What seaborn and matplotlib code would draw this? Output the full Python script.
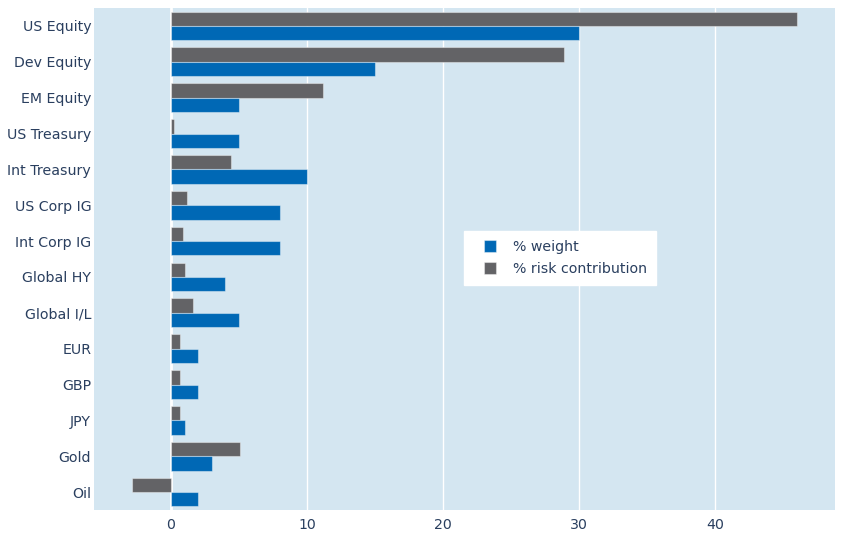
import numpy as np
import pandas as pd
import seaborn as sns
import matplotlib.pyplot as plt
from matplotlib.patches import Rectangle
from matplotlib.legend_handler import HandlerPatch

# ---------- Data ----------
ASSETS = ["US Equity", "Dev Equity", "EM Equity", "US Treasury", "Int Treasury",
          "US Corp IG", "Int Corp IG", "Global HY", "Global I/L", "EUR", "GBP",
          "JPY", "Gold", "Oil"]
WEIGHT = [30, 15, 5, 5, 10, 8, 8, 4, 5, 2, 2, 1, 3, 2]
RISK = [46.0, 28.9, 11.2, 0.2, 4.4, 1.15, 0.9, 1.05, 1.6, 0.65, 0.65, 0.65, 5.05, -2.9]
XTICKS = [0, 10, 20, 30, 40]

BLUE = "#0068B5"
GREY = "#636366"
BG = "#D4E6F1"
TXT = "#2A3F5F"


def square_right(legend, orig_handle, xdescent, ydescent, width, height, fontsize):
    # square swatch pushed to the right end of the handle box
    return Rectangle((width - height - xdescent, -ydescent), height, height)


def main() -> int:
    df = pd.concat([
        pd.DataFrame({"asset": ASSETS, "value": RISK, "series": "% risk contribution"}),
        pd.DataFrame({"asset": ASSETS, "value": WEIGHT, "series": "% weight"}),
    ])

    sns.set_theme(style="white")
    plt.rcParams["font.family"] = ["DejaVu Sans"]

    fig = plt.figure(figsize=(8.43, 5.40), dpi=100)
    ax = fig.add_axes([94 / 843, 30 / 540, (835 - 94) / 843, (510 - 8) / 540])
    ax.set_facecolor(BG)

    sns.barplot(data=df, y="asset", x="value", hue="series", order=ASSETS,
                hue_order=["% risk contribution", "% weight"],
                palette=[GREY, BLUE], saturation=1, orient="h", width=0.8,
                errorbar=None, edgecolor=(1, 1, 1, 0.4), linewidth=0.8,
                ax=ax, zorder=3)

    ax.set_xlim(-5.66, 48.8)
    ax.set_ylim(13.5, -0.5)
    ax.set_xticks(XTICKS)
    ax.set_xticklabels([str(t) for t in XTICKS])
    for t in XTICKS:
        ax.axvline(t, color="white", lw=2.0 if t == 0 else 1.0, zorder=1)
    for s in ax.spines.values():
        s.set_visible(False)
    ax.tick_params(axis="both", length=0, labelsize=10.2, labelcolor=TXT)
    ax.tick_params(axis="y", pad=2)
    ax.tick_params(axis="x", pad=6)
    ax.set_xlabel("")
    ax.set_ylabel("")

    handles, labels = ax.get_legend_handles_labels()
    order = [labels.index("% weight"), labels.index("% risk contribution")]
    hmap = {h: HandlerPatch(patch_func=square_right) for h in handles}
    leg = ax.legend([handles[i] for i in order], [labels[i] for i in order],
                    handler_map=hmap,
                    loc="upper left", bbox_to_anchor=((464 - 94) / 741, 1 - (231 - 8) / 502),
                    frameon=True, fancybox=False, facecolor="white", edgecolor="white",
                    framealpha=1, fontsize=10.2, handlelength=1.65, handleheight=0.95,
                    borderpad=0.62, labelspacing=0.58, handletextpad=1.2,
                    borderaxespad=0)
    for t in leg.get_texts():
        t.set_color(TXT)

    fig.savefig("out.png", dpi=100)
    plt.close(fig)
    return 0


if __name__ == "__main__":
    raise SystemExit(main())
